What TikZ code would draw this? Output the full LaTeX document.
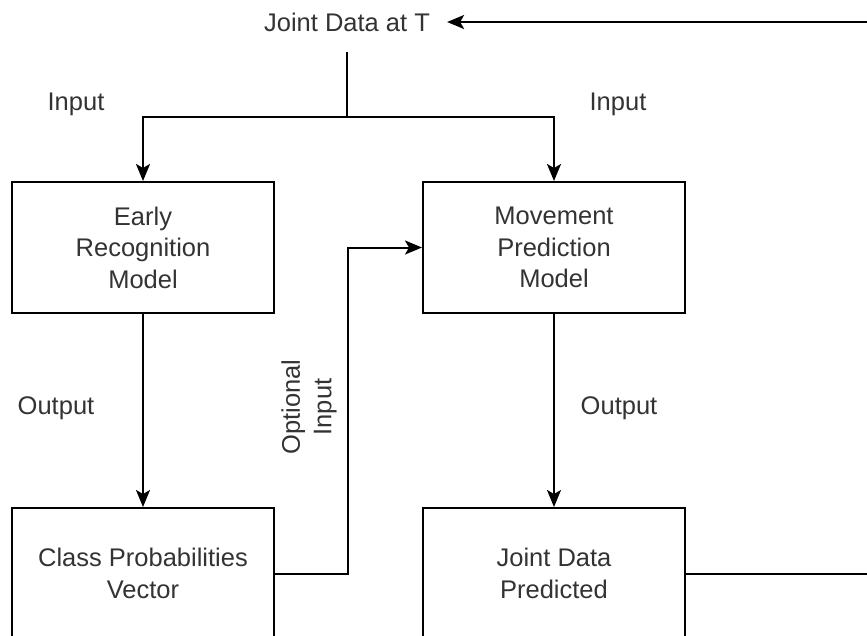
\documentclass[tikz,border=0pt]{standalone}
\usepackage{fontspec}
\setmainfont{Liberation Sans}
\usepackage{tikz}
\usetikzlibrary{shapes,arrows,positioning,calc,arrows.meta}

\begin{document}
\begin{tikzpicture}[x=1pt,y=-1pt,
    font=\fontsize{25.5}{31.5}\selectfont,
    model/.style={draw, line width=2pt, minimum width=262pt, minimum height=131pt, align=center, text=black!80, inner sep=0pt},
    lbl/.style={text=black!80, align=center},
    wire/.style={line width=2pt},
    flow/.style={line width=2pt, -{Stealth[length=17pt,width=14pt,inset=4pt]}}]
    \useasboundingbox (0,0) rectangle (867,635);
    \clip (0,0) rectangle (867,635);

    % source of data
    \node[lbl, minimum height=60pt, inner xsep=17pt] (joint) at (347,22) {Joint Data at T};
    \coordinate (split) at (347,117);

    % models and their outputs
    \node[model] (erm) at (143,247.5) {Early\\Recognition\\Model};
    \node[model] (mpm) at (554,247.5) {Movement\\Prediction\\Model};
    \node[model] (cpv) at (143,573.5) {Class Probabilities\\Vector};
    \node[model] (jdp) at (554,573.5) {Joint Data\\Predicted};

    % labels
    \node[lbl] (inl) at (76,104) {Input};
    \node[lbl] (inr) at (618,104) {Input};
    \node[lbl] (outl) at (56,408) {Output};
    \node[lbl] (outr) at (619,408) {Output};
    \node[lbl, rotate=90] (opt) at (309,407) {Optional\\Input};

    \draw[wire] (joint.south) -- (split);
    \draw[flow] (split) -| (erm.north);
    \draw[flow] (split) -| (mpm.north);
    \draw[flow] (erm) -- (cpv);
    \draw[flow] (mpm) -- (jdp);
    \draw[flow] (cpv.east) -- ++(73,0) |- (mpm.west);
    \draw[flow] (jdp.east) -- ++(220,0) |- (joint.east);
\end{tikzpicture}
\end{document}
